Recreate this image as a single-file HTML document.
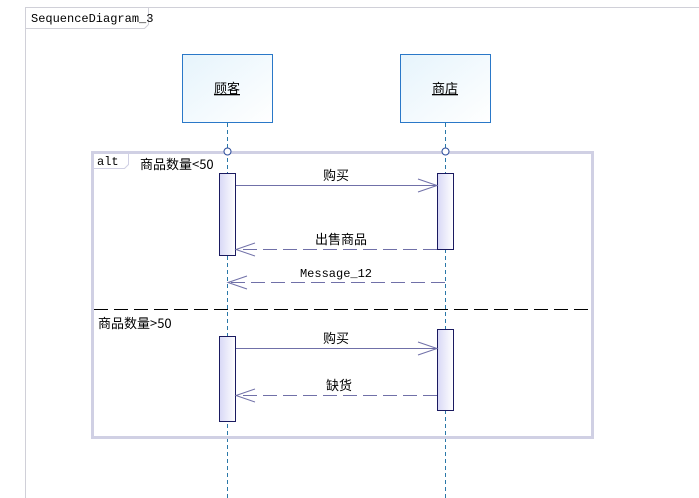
<!DOCTYPE html>
<html><head><style>
body{margin:0;background:#fff;}
svg{display:block;}
</style></head><body>
<svg width="699" height="498" xmlns="http://www.w3.org/2000/svg">
<defs>
<linearGradient id="g1" x1="0" y1="0" x2="1" y2="1"><stop offset="0" stop-color="#e6f4fc"/><stop offset="1" stop-color="#ffffff"/></linearGradient>
<linearGradient id="g2" x1="0" y1="0" x2="1" y2="0"><stop offset="0" stop-color="#d8d8f6"/><stop offset="1" stop-color="#ffffff"/></linearGradient>
</defs>
<line x1="25.5" y1="8" x2="25.5" y2="498" stroke="#d0d0d8"/>
<line x1="25" y1="7.5" x2="699" y2="7.5" stroke="#d0d0d8"/>
<path d="M25.5 28.5 H144.5 L148.5 24.5 V7.5" fill="none" stroke="#d0d0d8"/>
<text x="31" y="22" font-family="Liberation Mono,monospace" font-size="12">SequenceDiagram_3</text>
<rect x="182.5" y="54.5" width="90" height="68" fill="url(#g1)" stroke="#2a78c8"/>
<rect x="400.5" y="54.5" width="90" height="68" fill="url(#g1)" stroke="#2a78c8"/>
<text x="227" y="93" text-anchor="middle" font-family="'Noto Sans CJK SC',sans-serif" font-size="13" text-decoration="underline">顾客</text>
<text x="445" y="93" text-anchor="middle" font-family="'Noto Sans CJK SC',sans-serif" font-size="13" text-decoration="underline">商店</text>
<line x1="227.5" y1="123" x2="227.5" y2="498" stroke="#2a78a8" stroke-dasharray="4,3"/>
<line x1="445.5" y1="123" x2="445.5" y2="498" stroke="#2a78a8" stroke-dasharray="4,3"/>
<rect x="92.5" y="152.5" width="500" height="285" fill="none" stroke="#d0d0e4" stroke-width="3"/>
<path d="M92 168.5 H124.5 L128.5 164.5 V152" fill="none" stroke="#d0d0e4"/>
<text x="97" y="165" font-family="Liberation Mono,monospace" font-size="12">alt</text>
<text x="140" y="169" font-family="'Noto Sans CJK SC',sans-serif" font-size="13">商品数量&lt;50</text>
<line x1="94" y1="309.5" x2="591" y2="309.5" stroke="#000" stroke-dasharray="14,6"/>
<text x="98" y="328" font-family="'Noto Sans CJK SC',sans-serif" font-size="13">商品数量&gt;50</text>
<circle cx="227.5" cy="151.5" r="3.5" fill="#fff" stroke="#2a4a9a"/>
<circle cx="445.5" cy="151.5" r="3.5" fill="#fff" stroke="#2a4a9a"/>
<rect x="219.5" y="173.5" width="16" height="82" fill="url(#g2)" stroke="#1a1a60"/>
<rect x="437.5" y="173.5" width="16" height="76" fill="url(#g2)" stroke="#1a1a60"/>
<rect x="219.5" y="336.5" width="16" height="85" fill="url(#g2)" stroke="#1a1a60"/>
<rect x="437.5" y="329.5" width="16" height="81" fill="url(#g2)" stroke="#1a1a60"/>
<g stroke="#7070a8" fill="none">
<line x1="236" y1="185.5" x2="437" y2="185.5"/><path d="M418 179 L437 185.5 L418 192"/>
<line x1="437" y1="249.5" x2="236" y2="249.5" stroke-dasharray="14,6"/><path d="M255 243 L236 249.5 L255 256"/>
<line x1="445" y1="282.5" x2="228" y2="282.5" stroke-dasharray="14,6"/><path d="M247 276 L228 282.5 L247 289"/>
<line x1="236" y1="348.5" x2="437" y2="348.5"/><path d="M418 342 L437 348.5 L418 355"/>
<line x1="437" y1="395.5" x2="236" y2="395.5" stroke-dasharray="14,6"/><path d="M255 389 L236 395.5 L255 402"/>
</g>
<g font-family="'Noto Sans CJK SC',sans-serif" font-size="13" text-anchor="middle">
<text x="336" y="180">购买</text>
<text x="341" y="244">出售商品</text>
<text x="336" y="343">购买</text>
<text x="339" y="390">缺货</text>
</g>
<text x="336" y="277" text-anchor="middle" font-family="Liberation Mono,monospace" font-size="12">Message_12</text>
</svg>
</body></html>
